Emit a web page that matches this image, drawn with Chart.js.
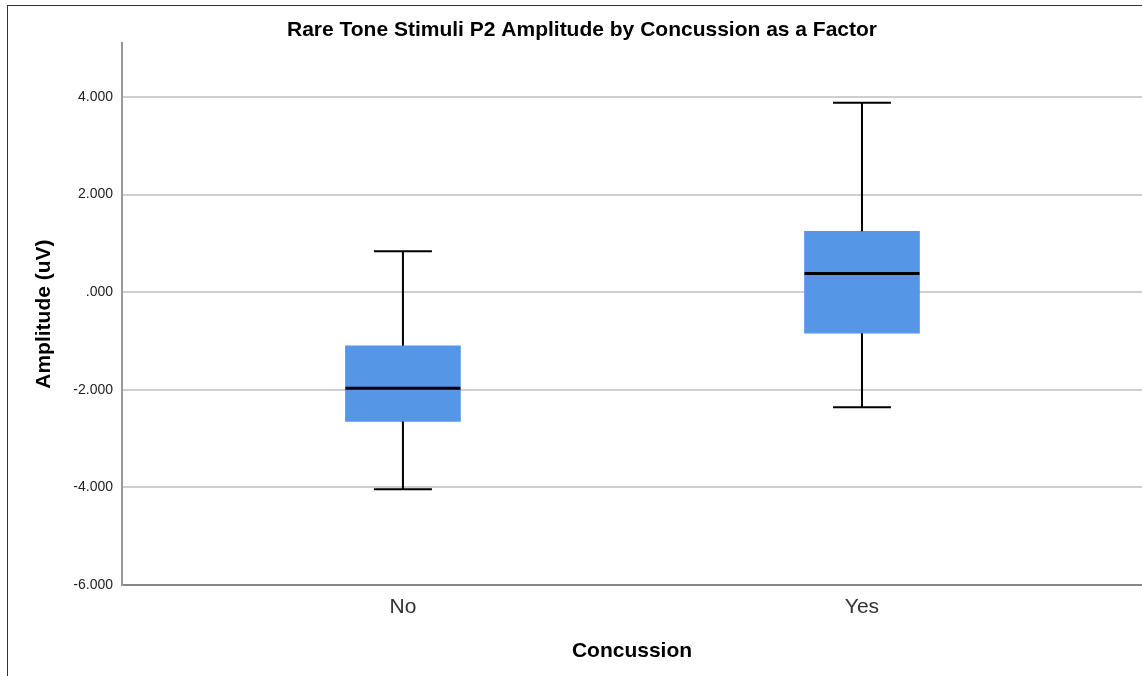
<!DOCTYPE html>
<html>
<head>
<meta charset="utf-8">
<script src="https://cdn.jsdelivr.net/npm/chart.js@4.4.0/dist/chart.umd.min.js"></script>
<style>
    body { margin: 0; background: #fff; }
    #wrap { position: relative; width: 1142px; height: 676px; }
    #frame { position: absolute; left: 7px; top: 5px; right: -10px; bottom: -10px; border-left: 1px solid #333; border-top: 1px solid #333; }
    #chart { position: absolute; left: 0; top: 0; }
</style>
</head>
<body>
<div id="wrap">
    <div id="frame"></div>
    <canvas id="chart" width="1142" height="676"></canvas>
</div>
<script>
const categories = ['No', 'Yes'];
const q1 = [-2.65, -0.84];
const q3 = [-1.10, 1.245];
const medians = [-1.97, 0.38];
const whiskerLow = [-4.04, -2.36];
const whiskerHigh = [0.84, 3.88];
const yTicks = [-6, -4, -2, 0, 2, 4];

const boxColor = 'rgb(85, 150, 230)';
const boldFont = 'Arial, "Liberation Sans"';

// median + whiskers drawn over the floating bars
const boxPlotExtras = {
    id: 'boxPlotExtras',
    afterDatasetsDraw(chart) {
        const ctx = chart.ctx;
        const xs = chart.scales.x;
        const ys = chart.scales.y;
        ctx.save();
        ctx.strokeStyle = '#000';
        categories.forEach((cat, i) => {
            const cx = xs.getPixelForValue(i);
            // whiskers
            ctx.lineWidth = 2;
            ctx.beginPath();
            ctx.moveTo(cx, ys.getPixelForValue(q3[i]));
            ctx.lineTo(cx, ys.getPixelForValue(whiskerHigh[i]));
            ctx.moveTo(cx, ys.getPixelForValue(q1[i]));
            ctx.lineTo(cx, ys.getPixelForValue(whiskerLow[i]));
            // caps
            ctx.moveTo(cx - 29, ys.getPixelForValue(whiskerHigh[i]));
            ctx.lineTo(cx + 29, ys.getPixelForValue(whiskerHigh[i]));
            ctx.moveTo(cx - 29, ys.getPixelForValue(whiskerLow[i]));
            ctx.lineTo(cx + 29, ys.getPixelForValue(whiskerLow[i]));
            ctx.stroke();
            // median
            ctx.lineWidth = 3;
            ctx.beginPath();
            ctx.moveTo(cx - 57.5, ys.getPixelForValue(medians[i]));
            ctx.lineTo(cx + 57.5, ys.getPixelForValue(medians[i]));
            ctx.stroke();
        });
        ctx.restore();
    }
};

const ctx = document.getElementById('chart').getContext('2d');
new Chart(ctx, {
    type: 'bar',
    data: {
        datasets: [{
            label: 'Amplitude',
            data: categories.map((c, i) => ({ x: i, y: [q1[i], q3[i]] })),
            backgroundColor: boxColor,
            borderWidth: 0,
            barThickness: 115
        }]
    },
    options: {
        responsive: false,
        animation: false,
        layout: { padding: { left: 22, right: 0, top: 0, bottom: 0 } },
        plugins: {
            legend: { display: false },
            tooltip: { enabled: false },
            title: {
                display: true,
                text: 'Rare Tone Stimuli P2 Amplitude by Concussion as a Factor',
                color: '#000',
                font: { family: boldFont, size: 21, weight: 'bold' },
                padding: { top: 18, bottom: 0 }
            }
        },
        scales: {
            x: {
                type: 'linear',
                offset: false,
                min: -0.612,
                max: 1.61,
                afterBuildTicks: scale => {
                    scale.ticks = categories.map((c, i) => ({ value: i }));
                },
                afterFit: scale => { scale.height = 91; },
                grid: { display: false, drawTicks: false },
                border: { display: true, color: '#888', width: 2 },
                ticks: {
                    autoSkip: false,
                    maxRotation: 0,
                    padding: 10,
                    color: '#333',
                    font: { family: 'Arial, "Liberation Sans"', size: 21 },
                    callback: v => categories[v]
                },
                title: {
                    display: true,
                    text: 'Concussion',
                    color: '#000',
                    font: { family: boldFont, size: 21, weight: 'bold' },
                    padding: { top: 0, bottom: 12 }
                }
            },
            y: {
                min: -6,
                max: 5.1,
                afterBuildTicks: scale => {
                    scale.ticks = yTicks.map(v => ({ value: v }));
                },
                afterFit: scale => { scale.width = 100; },
                grid: { color: '#cfcfcf', lineWidth: 2, drawTicks: false },
                border: { display: true, color: '#999', width: 2 },
                ticks: {
                    padding: 9,
                    color: '#222',
                    font: { family: 'Arial, "Liberation Sans"', size: 14 },
                    callback: v => v === 0 ? '.000' : v.toFixed(3)
                },
                title: {
                    display: true,
                    text: 'Amplitude (uV)',
                    color: '#000',
                    font: { family: boldFont, size: 21, weight: 'bold' },
                    padding: { top: 10, bottom: 0 }
                }
            }
        }
    },
    plugins: [boxPlotExtras]
});
</script>
</body>
</html>
